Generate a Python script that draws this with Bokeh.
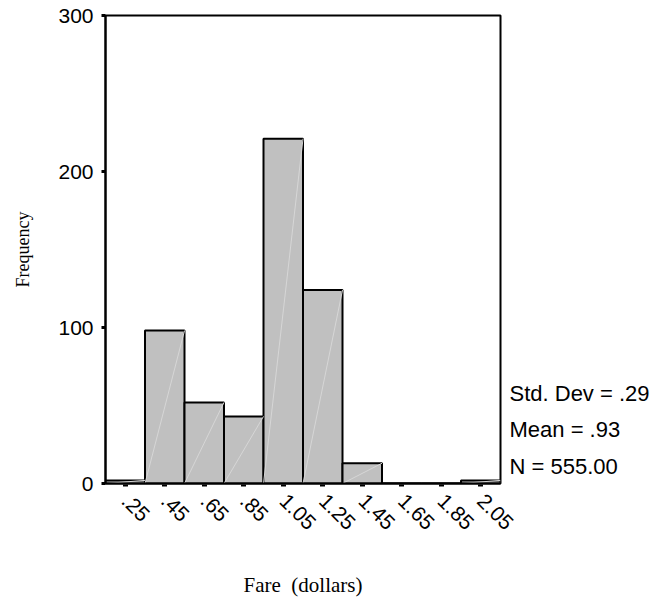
import math
from bokeh.plotting import figure
from bokeh.models import FixedTicker, LinearAxis, ColumnDataSource
from bokeh.embed import file_html
from bokeh.resources import INLINE

# Histogram of fares, bin width 0.20 dollars
bin_centers = [0.25, 0.45, 0.65, 0.85, 1.05, 1.25, 1.45, 1.65, 1.85, 2.05]
bin_labels = [".25", ".45", ".65", ".85", "1.05", "1.25", "1.45", "1.65", "1.85", "2.05"]
counts = [2, 98, 52, 43, 221, 124, 13, 0, 0, 2]
bin_width = 0.20
y_ticks = [0, 100, 200, 300]

stats_lines = ["Std. Dev = .29", "Mean = .93", "N = 555.00"]

left = [c - bin_width / 2 for c in bin_centers]
right = [c + bin_width / 2 for c in bin_centers]
src = ColumnDataSource(dict(left=left, right=right, top=counts,
                            bottom=[0] * len(counts)))

p = figure(width=660, height=600, output_backend="svg", toolbar_location=None,
           x_range=(0.15, 2.15), y_range=(0, 300),
           min_border_left=105, min_border_right=160,
           min_border_top=15, min_border_bottom=116)
p.grid.visible = False
p.background_fill_color = "white"
p.border_fill_color = "white"
p.outline_line_color = "black"
p.outline_line_width = 2

p.quad(left="left", right="right", top="top", bottom="bottom", source=src,
       fill_color="#c0c0c0", line_color="black", line_width=2)
# faint shading streak inside each bar
p.segment(x0="left", y0="bottom", x1="right", y1="top", source=src,
          line_color="#d6d6d6", line_width=1)

num_font = "Liberation Sans"
serif = "Liberation Serif"

# y axis
ya = p.yaxis[0]
ya.ticker = FixedTicker(ticks=y_ticks)
ya.minor_tick_line_color = None
ya.major_tick_in = 0
ya.major_tick_out = 4
ya.major_tick_line_width = 3
ya.axis_line_width = 2
ya.major_label_text_font = num_font
ya.major_label_text_font_size = "21px"
ya.major_label_text_color = "black"
ya.major_label_standoff = 8
ya.axis_label = "Frequency"
ya.axis_label_text_font = serif
ya.axis_label_text_font_style = "normal"
ya.axis_label_text_font_size = "18px"
ya.axis_label_text_color = "black"
ya.axis_label_standoff = 22

# x axis
xa = p.xaxis[0]
xa.ticker = FixedTicker(ticks=bin_centers)
xa.major_label_overrides = {c: lab for c, lab in zip(bin_centers, bin_labels)}
xa.minor_tick_line_color = None
xa.major_tick_in = 0
xa.major_tick_out = 6
xa.major_tick_line_width = 5
xa.major_tick_line_dash = "0 3 2 10"
xa.axis_line_width = 2
xa.major_label_orientation = -math.pi / 4
xa.major_label_text_font = num_font
xa.major_label_text_font_size = "21px"
xa.major_label_text_color = "black"
xa.major_label_standoff = 8
xa.axis_label = "Fare \u00a0(dollars)"
xa.axis_label_text_font = serif
xa.axis_label_text_font_style = "normal"
xa.axis_label_text_font_size = "21px"
xa.axis_label_text_color = "black"
xa.axis_label_standoff = 34

# summary statistics listed to the right of the frame
stats_y = [58, 34.5, 11]
sa = LinearAxis(ticker=FixedTicker(ticks=stats_y),
                major_label_overrides={y: t for y, t in zip(stats_y, stats_lines)})
sa.axis_line_color = None
sa.major_tick_line_color = None
sa.minor_tick_line_color = None
sa.major_label_standoff = 3
sa.major_label_text_font = num_font
sa.major_label_text_font_size = "22px"
sa.major_label_text_color = "black"
p.add_layout(sa, "right")

open("out.html", "w").write(file_html(p, INLINE))
